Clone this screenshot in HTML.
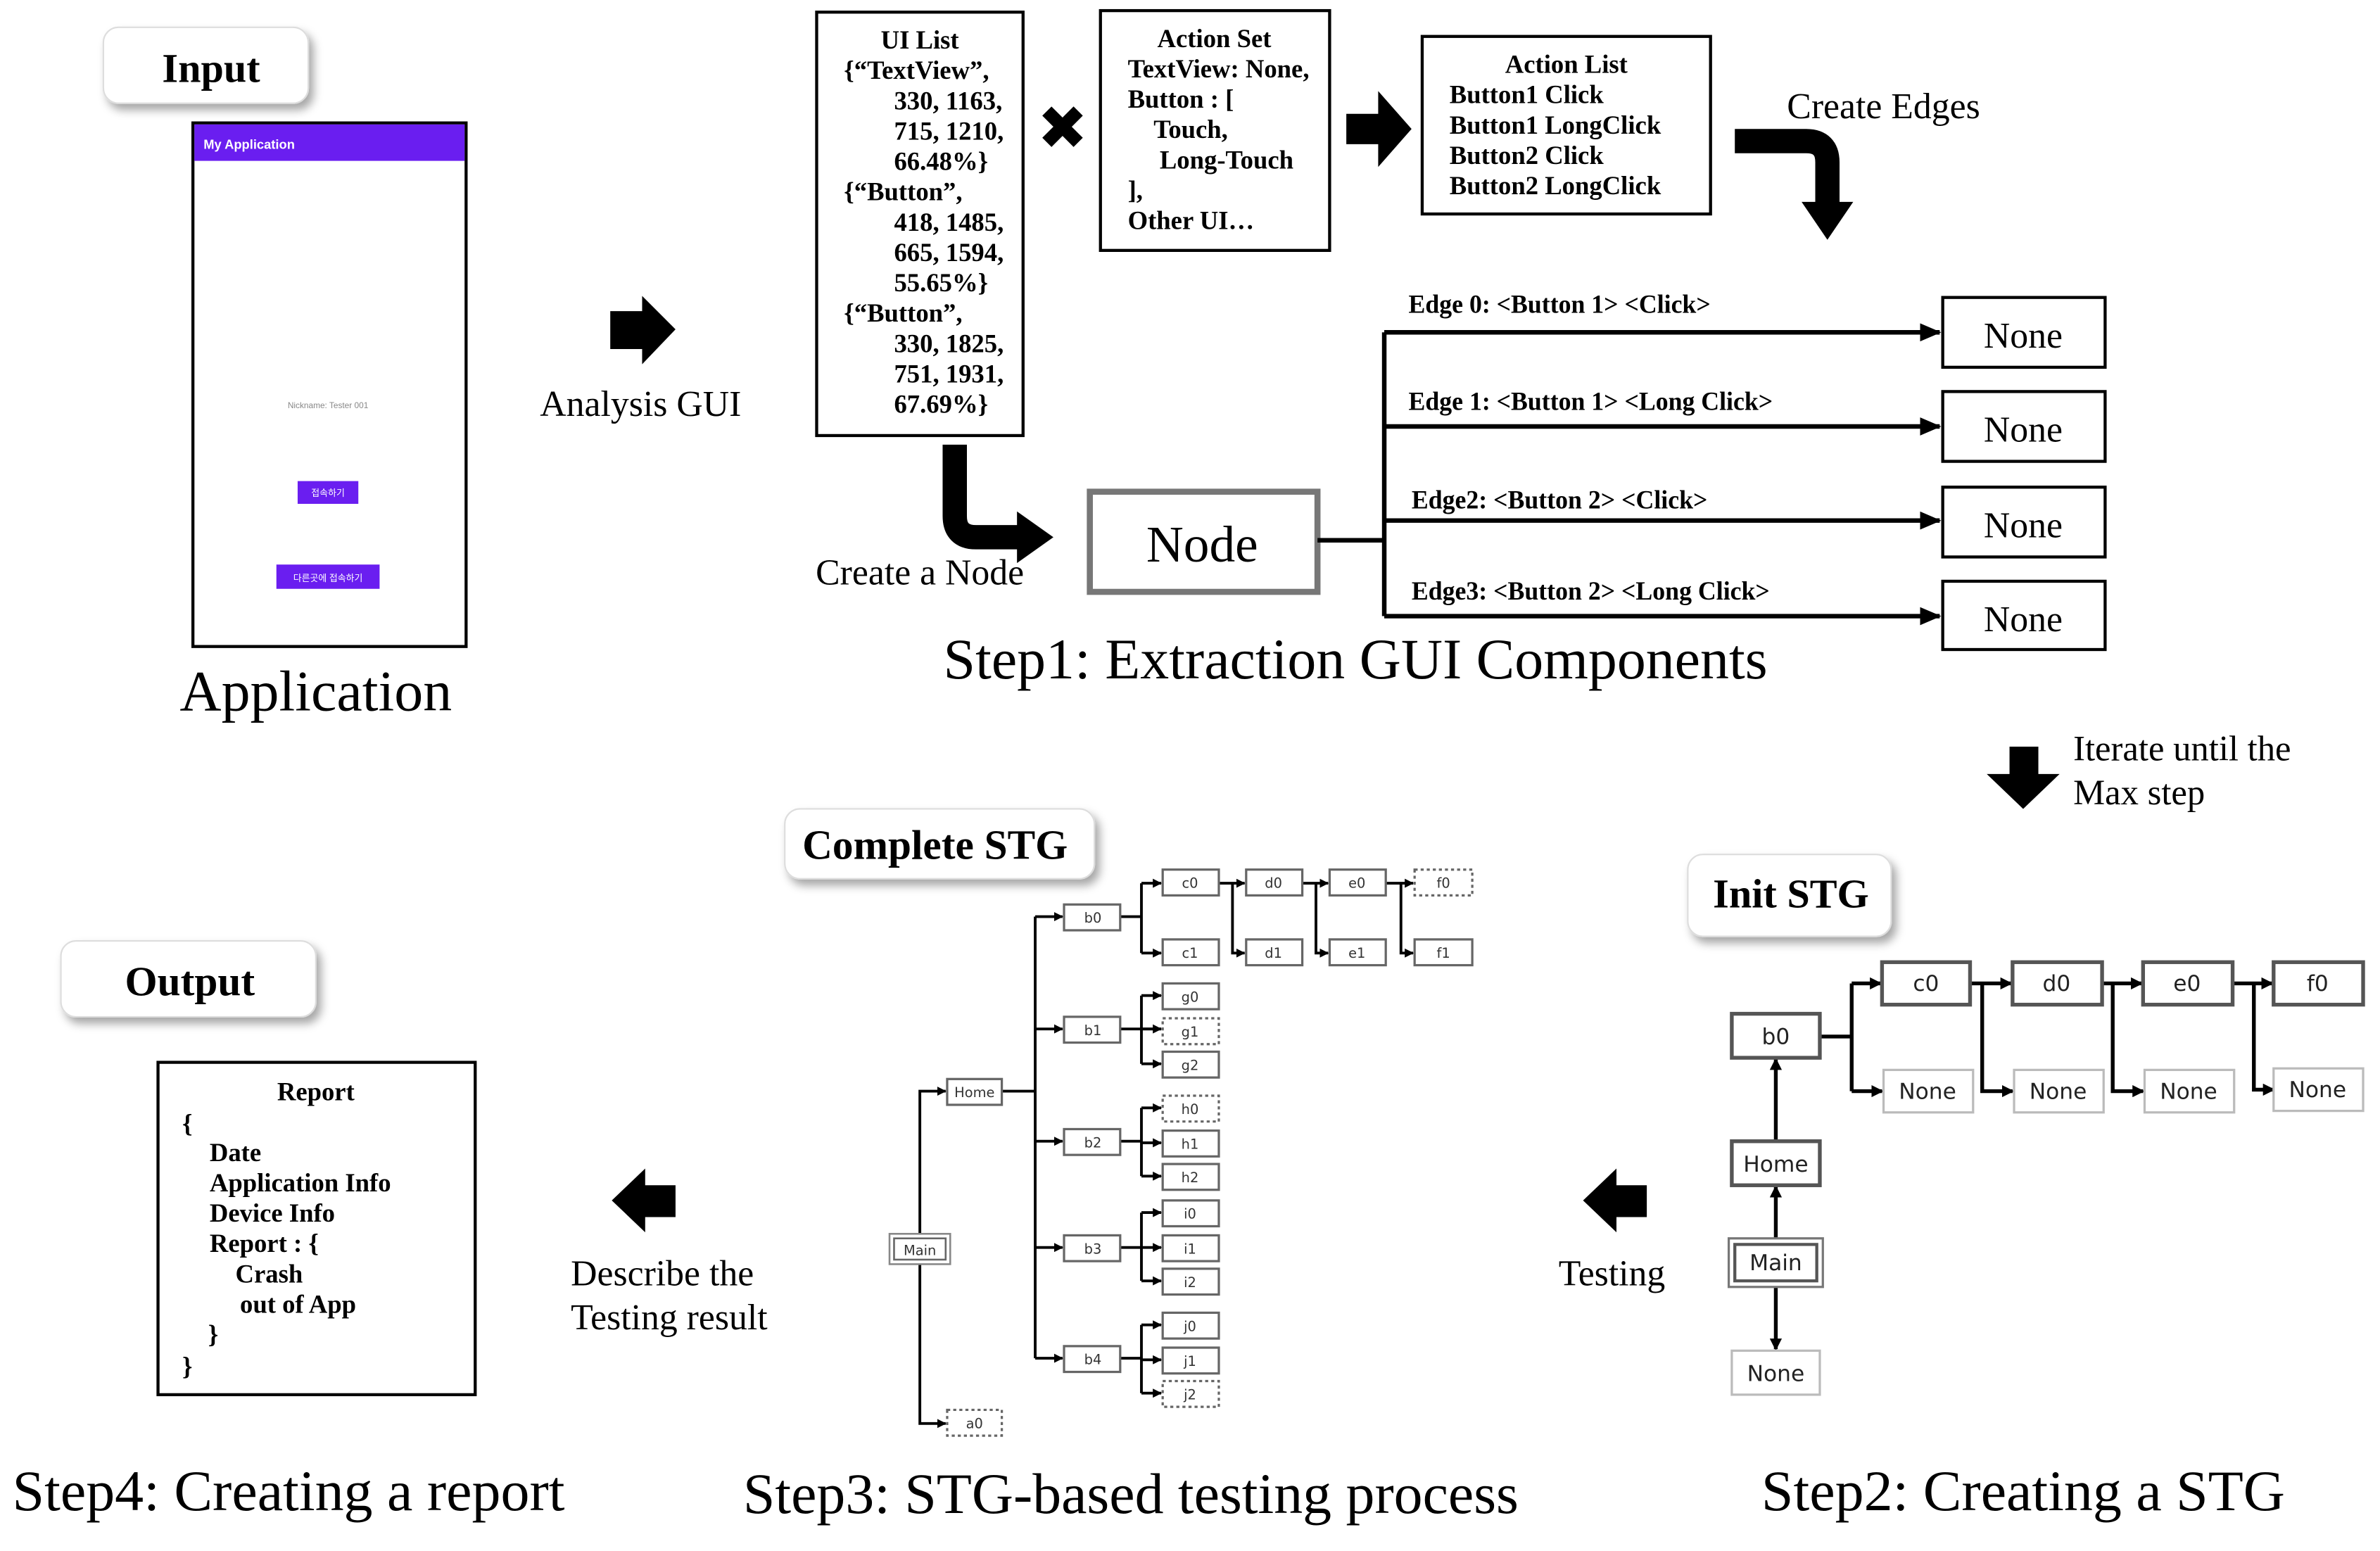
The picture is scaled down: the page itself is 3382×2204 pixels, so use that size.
<!DOCTYPE html>
<html><head><meta charset="utf-8"><style>html,body{margin:0;padding:0;background:#fff}svg{display:block}</style></head><body>
<svg width="3382" height="2204" viewBox="0 0 1568 1022" xmlns="http://www.w3.org/2000/svg" font-family="'Liberation Serif', serif">
<defs>
<marker id="ah" markerWidth="8" markerHeight="8" refX="7" refY="4" orient="auto" markerUnits="userSpaceOnUse"><path d="M0,0 L8,4 L0,8 z" fill="#000"/></marker>
<marker id="ahL" markerWidth="14" markerHeight="12" refX="13" refY="6" orient="auto" markerUnits="userSpaceOnUse"><path d="M0,0 L14,6 L0,12 z" fill="#000"/></marker>
<marker id="ahS" markerWidth="6" markerHeight="6" refX="5.5" refY="3" orient="auto" markerUnits="userSpaceOnUse"><path d="M0,0 L6,3 L0,6 z" fill="#000"/></marker>
<filter id="sh" x="-20%" y="-20%" width="150%" height="160%"><feDropShadow dx="3" dy="4" stdDeviation="3" flood-color="#000" flood-opacity="0.35"/></filter>
</defs>
<rect width="1568" height="1022" fill="#fff"/>

<!-- Input -->
<rect x="68" y="18" width="135" height="50" rx="10" fill="#fff" stroke="#ddd" filter="url(#sh)"/>
<text x="139" y="54" font-size="27" font-weight="bold" text-anchor="middle">Input</text>
<rect x="127" y="81" width="180" height="345" fill="#fff" stroke="#000" stroke-width="2"/>
<rect x="128" y="82" width="178" height="24" fill="#6a1ef0"/>
<text x="134" y="98" font-size="8.5" fill="#fff" font-family="'Liberation Sans',sans-serif" font-weight="bold">My Application</text>
<text x="216" y="269" font-size="5.5" fill="#888" text-anchor="middle" font-family="'Liberation Sans',sans-serif">Nickname: Tester 001</text>
<rect x="196" y="317" width="40" height="15" fill="#6a1ef0"/>
<text x="216" y="327" font-size="6" fill="#fff" text-anchor="middle" font-family="'Liberation Sans','Noto Sans CJK KR',sans-serif">접속하기</text>
<rect x="182" y="372" width="68" height="16" fill="#6a1ef0"/>
<text x="216" y="383" font-size="6" fill="#fff" text-anchor="middle" font-family="'Liberation Sans','Noto Sans CJK KR',sans-serif">다른곳에 접속하기</text>
<text x="208" y="468" font-size="38" text-anchor="middle">Application</text>

<!-- Analysis arrow -->
<path d="M402,205 H423 V195 L445,217 L423,240 V230 H402 Z" fill="#000"/>
<text x="422" y="274" font-size="24" text-anchor="middle">Analysis GUI</text>

<!-- UI List -->
<g font-size="17" font-weight="bold">
<rect x="538" y="8" width="136" height="279" fill="none" stroke="#000" stroke-width="2"/>
<text x="606" y="32" text-anchor="middle">UI List</text>
<text x="556" y="52">{“TextView”,</text>
<text x="589" y="72">330, 1163,</text>
<text x="589" y="92">715, 1210,</text>
<text x="589" y="112">66.48%}</text>
<text x="556" y="132">{“Button”,</text>
<text x="589" y="152">418, 1485,</text>
<text x="589" y="172">665, 1594,</text>
<text x="589" y="192">55.65%}</text>
<text x="556" y="212">{“Button”,</text>
<text x="589" y="232">330, 1825,</text>
<text x="589" y="252">751, 1931,</text>
<text x="589" y="272">67.69%}</text>

<text x="700" y="98" font-size="40" text-anchor="middle" font-family="'DejaVu Sans',sans-serif" font-weight="normal">✖</text>

<rect x="725" y="7" width="151" height="158" fill="none" stroke="#000" stroke-width="2"/>
<text x="800" y="31" text-anchor="middle">Action Set</text>
<text x="743" y="51">TextView: None,</text>
<text x="743" y="71">Button : [</text>
<text x="760" y="91">Touch,</text>
<text x="764" y="111">Long-Touch</text>
<text x="743" y="131">],</text>
<text x="743" y="151">Other UI…</text>

<path d="M887,75 H908 V60 L930,85 L908,110 V95 H887 Z" fill="#000"/>

<rect x="937" y="24" width="190" height="117" fill="none" stroke="#000" stroke-width="2"/>
<text x="1032" y="48" text-anchor="middle">Action List</text>
<text x="955" y="68">Button1 Click</text>
<text x="955" y="88">Button1 LongClick</text>
<text x="955" y="108">Button2 Click</text>
<text x="955" y="128">Button2 LongClick</text>
</g>

<text x="1241" y="78" font-size="24" text-anchor="middle">Create Edges</text>
<path d="M1143,93 H1190 Q1204,93 1204,107 V135" fill="none" stroke="#000" stroke-width="16"/>
<path d="M1187,133 L1221,133 L1204,158 Z" fill="#000"/>

<!-- Create a Node -->
<path d="M629,293 V340 Q629,354 643,354 H672" fill="none" stroke="#000" stroke-width="16"/>
<path d="M670,337 L694,354 L670,371 Z" fill="#000"/>
<text x="606" y="385" font-size="24" text-anchor="middle">Create a Node</text>
<rect x="718" y="324" width="150" height="66" fill="#fff" stroke="#777" stroke-width="4"/>
<text x="792" y="370" font-size="34" text-anchor="middle">Node</text>

<g stroke="#000" stroke-width="3" fill="none">
<path d="M868,356 H912"/>
<path d="M912,219 V406"/>
<path d="M912,219 H1278" marker-end="url(#ahL)"/>
<path d="M912,281 H1278" marker-end="url(#ahL)"/>
<path d="M912,343 H1278" marker-end="url(#ahL)"/>
<path d="M912,406 H1278" marker-end="url(#ahL)"/>
</g>
<g font-size="17" font-weight="bold">
<text x="928" y="206" textLength="199" lengthAdjust="spacingAndGlyphs">Edge 0: &lt;Button 1&gt; &lt;Click&gt;</text>
<text x="928" y="270" textLength="240" lengthAdjust="spacingAndGlyphs">Edge 1: &lt;Button 1&gt; &lt;Long Click&gt;</text>
<text x="930" y="335" textLength="195" lengthAdjust="spacingAndGlyphs">Edge2: &lt;Button 2&gt; &lt;Click&gt;</text>
<text x="930" y="395" textLength="236" lengthAdjust="spacingAndGlyphs">Edge3: &lt;Button 2&gt; &lt;Long Click&gt;</text>
</g>
<g fill="#fff" stroke="#000" stroke-width="2">
<rect x="1280" y="196" width="107" height="46"/>
<rect x="1280" y="258" width="107" height="46"/>
<rect x="1280" y="321" width="107" height="46"/>
<rect x="1280" y="383" width="107" height="45"/>
</g>
<g font-size="24" text-anchor="middle">
<text x="1333" y="229">None</text>
<text x="1333" y="291">None</text>
<text x="1333" y="354">None</text>
<text x="1333" y="416">None</text>
</g>
<text x="893" y="447" font-size="38" text-anchor="middle" textLength="543" lengthAdjust="spacingAndGlyphs">Step1: Extraction GUI Components</text>

<!-- Iterate -->
<path d="M1324,492 H1343 V510 H1357 L1333,533 L1309,510 H1324 Z" fill="#000"/>
<text x="1366" y="501" font-size="23.5">Iterate until the</text>
<text x="1366" y="530" font-size="23.5">Max step</text>

<!-- Init STG -->
<rect x="1112" y="563" width="134" height="54" rx="10" fill="#fff" stroke="#ddd" filter="url(#sh)"/>
<text x="1180" y="598" font-size="27" font-weight="bold" text-anchor="middle">Init STG</text>
<g stroke="#000" stroke-width="2.5" fill="none">
<path d="M1199,683 H1220 M1220,648 V719"/>
<path d="M1220,648 H1239" marker-end="url(#ah)"/>
<path d="M1220,719 H1240" marker-end="url(#ah)"/>
<path d="M1298,648 H1325" marker-end="url(#ah)"/>
<path d="M1306,648 V719 H1326" marker-end="url(#ah)"/>
<path d="M1385,648 H1411" marker-end="url(#ah)"/>
<path d="M1392,648 V719 H1412" marker-end="url(#ah)"/>
<path d="M1471,648 H1497" marker-end="url(#ah)"/>
<path d="M1485,648 V718 H1498" marker-end="url(#ah)"/>
<path d="M1170,752 V698" marker-end="url(#ah)"/>
<path d="M1170,816 V782" marker-end="url(#ah)"/>
<path d="M1170,848 V889" marker-end="url(#ah)"/>
</g>
<g fill="#fff" stroke="#555" stroke-width="2.5">
<rect x="1141" y="668" width="58" height="29"/>
<rect x="1240" y="634" width="58" height="28"/>
<rect x="1326" y="634" width="59" height="28"/>
<rect x="1412" y="634" width="59" height="28"/>
<rect x="1498" y="634" width="59" height="28"/>
<rect x="1141" y="752" width="58" height="29"/>
</g>
<g fill="#fff" stroke="#bbb" stroke-width="1.5">
<rect x="1241" y="705" width="59" height="28"/>
<rect x="1327" y="705" width="59" height="28"/>
<rect x="1413" y="705" width="59" height="28"/>
<rect x="1498" y="704" width="59" height="28"/>
<rect x="1141" y="890" width="58" height="29"/>
</g>
<rect x="1139" y="816" width="62" height="32" fill="#fff" stroke="#777" stroke-width="1.5"/>
<rect x="1143" y="820" width="54" height="24" fill="#fff" stroke="#555" stroke-width="2"/>
<g font-family="'DejaVu Sans','Liberation Sans',sans-serif" font-size="14.5" text-anchor="middle" fill="#222">
<text x="1170" y="688">b0</text>
<text x="1269" y="653">c0</text>
<text x="1355" y="653">d0</text>
<text x="1441" y="653">e0</text>
<text x="1527" y="653">f0</text>
<text x="1270" y="724">None</text>
<text x="1356" y="724">None</text>
<text x="1442" y="724">None</text>
<text x="1527" y="723">None</text>
<text x="1170" y="772">Home</text>
<text x="1170" y="837">Main</text>
<text x="1170" y="910">None</text>
</g>
<path d="M1085,781 V802 H1065 V812 L1043,791 L1065,770 V781 Z" fill="#000"/>
<text x="1062" y="847" font-size="24" text-anchor="middle">Testing</text>
<text x="1333" y="995" font-size="38" text-anchor="middle" textLength="345" lengthAdjust="spacingAndGlyphs">Step2: Creating a STG</text>

<!-- Complete STG -->
<rect x="517" y="533" width="204" height="46" rx="10" fill="#fff" stroke="#ddd" filter="url(#sh)"/>
<text x="616" y="566" font-size="27.5" font-weight="bold" text-anchor="middle">Complete STG</text>
<g stroke="#000" stroke-width="1.8" fill="none">
<path d="M606,813 V719 H623" marker-end="url(#ahS)"/>
<path d="M606,833 V938 H623" marker-end="url(#ahS)"/>
<path d="M660,719 H682 M682,604 V895"/>
<path d="M682,604 H700" marker-end="url(#ahS)"/>
<path d="M682,678 H700" marker-end="url(#ahS)"/>
<path d="M682,752 H700" marker-end="url(#ahS)"/>
<path d="M682,822 H700" marker-end="url(#ahS)"/>
<path d="M682,895 H700" marker-end="url(#ahS)"/>
<path d="M738,604 H752 M752,582 V628"/>
<path d="M752,582 H765" marker-end="url(#ahS)"/>
<path d="M752,628 H765" marker-end="url(#ahS)"/>
<path d="M803,582 H820" marker-end="url(#ahS)"/>
<path d="M812,582 V628 H820" marker-end="url(#ahS)"/>
<path d="M858,582 H875" marker-end="url(#ahS)"/>
<path d="M867,582 V628 H875" marker-end="url(#ahS)"/>
<path d="M913,582 H931" marker-end="url(#ahS)"/>
<path d="M923,582 V628 H931" marker-end="url(#ahS)"/>
<path d="M738,678 H765 M752,656 V701"/>
<path d="M752,656 H765" marker-end="url(#ahS)"/>
<path d="M752,701 H765" marker-end="url(#ahS)"/>
<path d="M752,678 H765" marker-end="url(#ahS)"/>
<path d="M738,752 H752 M752,730 V775"/>
<path d="M752,730 H765" marker-end="url(#ahS)"/>
<path d="M752,753 H765" marker-end="url(#ahS)"/>
<path d="M752,775 H765" marker-end="url(#ahS)"/>
<path d="M738,822 H752 M752,799 V844"/>
<path d="M752,799 H765" marker-end="url(#ahS)"/>
<path d="M752,822 H765" marker-end="url(#ahS)"/>
<path d="M752,844 H765" marker-end="url(#ahS)"/>
<path d="M738,895 H752 M752,873 V918"/>
<path d="M752,873 H765" marker-end="url(#ahS)"/>
<path d="M752,896 H765" marker-end="url(#ahS)"/>
<path d="M752,918 H765" marker-end="url(#ahS)"/>
</g>
<g fill="#fff" stroke="#666" stroke-width="1.5">
<rect x="624" y="711" width="36" height="17"/>
<rect x="701" y="596" width="37" height="17"/>
<rect x="701" y="670" width="37" height="17"/>
<rect x="701" y="744" width="37" height="17"/>
<rect x="701" y="814" width="37" height="17"/>
<rect x="701" y="887" width="37" height="17"/>
<rect x="766" y="573" width="37" height="17"/>
<rect x="766" y="619" width="37" height="17"/>
<rect x="821" y="573" width="37" height="17"/>
<rect x="821" y="619" width="37" height="17"/>
<rect x="876" y="573" width="37" height="17"/>
<rect x="876" y="619" width="37" height="17"/>
<rect x="932" y="619" width="38" height="17"/>
<rect x="766" y="648" width="37" height="17"/>
<rect x="766" y="693" width="37" height="17"/>
<rect x="766" y="745" width="37" height="17"/>
<rect x="766" y="767" width="37" height="17"/>
<rect x="766" y="791" width="37" height="17"/>
<rect x="766" y="814" width="37" height="17"/>
<rect x="766" y="836" width="37" height="17"/>
<rect x="766" y="865" width="37" height="17"/>
<rect x="766" y="888" width="37" height="17"/>
</g>
<g fill="#fff" stroke="#666" stroke-width="1.5" stroke-dasharray="2,2">
<rect x="624" y="929" width="36" height="17"/>
<rect x="932" y="573" width="38" height="17"/>
<rect x="766" y="671" width="37" height="17"/>
<rect x="766" y="722" width="37" height="17"/>
<rect x="766" y="910" width="37" height="17"/>
</g>
<rect x="586" y="813" width="40" height="20" fill="#fff" stroke="#888" stroke-width="1.2"/>
<rect x="589" y="816" width="34" height="14" fill="#fff" stroke="#666" stroke-width="1.2"/>
<g font-family="'DejaVu Sans','Liberation Sans',sans-serif" font-size="9" text-anchor="middle" fill="#333">
<text x="606" y="827">Main</text>
<text x="642" y="723">Home</text>
<text x="642" y="941">a0</text>
<text x="720" y="608">b0</text>
<text x="720" y="682">b1</text>
<text x="720" y="756">b2</text>
<text x="720" y="826">b3</text>
<text x="720" y="899">b4</text>
<text x="784" y="585">c0</text>
<text x="784" y="631">c1</text>
<text x="839" y="585">d0</text>
<text x="839" y="631">d1</text>
<text x="894" y="585">e0</text>
<text x="894" y="631">e1</text>
<text x="951" y="585">f0</text>
<text x="951" y="631">f1</text>
<text x="784" y="660">g0</text>
<text x="784" y="683">g1</text>
<text x="784" y="705">g2</text>
<text x="784" y="734">h0</text>
<text x="784" y="757">h1</text>
<text x="784" y="779">h2</text>
<text x="784" y="803">i0</text>
<text x="784" y="826">i1</text>
<text x="784" y="848">i2</text>
<text x="784" y="877">j0</text>
<text x="784" y="900">j1</text>
<text x="784" y="922">j2</text>
</g>
<text x="745" y="997" font-size="38" text-anchor="middle" textLength="511" lengthAdjust="spacingAndGlyphs">Step3: STG-based testing process</text>

<!-- Output -->
<path d="M445,781 V802 H425 V812 L403,791 L425,770 V781 Z" fill="#000"/>
<text x="376" y="847" font-size="24">Describe the</text>
<text x="376" y="876" font-size="24">Testing result</text>
<rect x="40" y="620" width="168" height="50" rx="10" fill="#fff" stroke="#ddd" filter="url(#sh)"/>
<text x="125" y="656" font-size="27.5" font-weight="bold" text-anchor="middle">Output</text>
<rect x="104" y="700" width="209" height="219" fill="none" stroke="#000" stroke-width="2"/>
<g font-size="17" font-weight="bold">
<text x="208" y="725" text-anchor="middle">Report</text>
<text x="120" y="746">{</text>
<text x="138" y="765">Date</text>
<text x="138" y="785">Application Info</text>
<text x="138" y="805">Device Info</text>
<text x="138" y="825">Report : {</text>
<text x="155" y="845">Crash</text>
<text x="158" y="865">out of App</text>
<text x="137" y="885">}</text>
<text x="120" y="906">}</text>
</g>
<text x="190" y="995" font-size="38" text-anchor="middle" textLength="364" lengthAdjust="spacingAndGlyphs">Step4: Creating a report</text>
</svg>
</body></html>
